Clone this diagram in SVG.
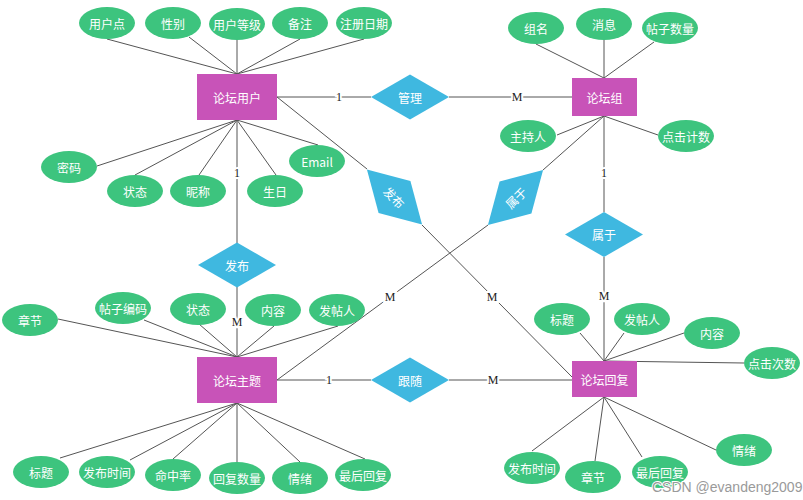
<svg xmlns="http://www.w3.org/2000/svg" width="803" height="500" viewBox="0 0 803 500">
<style>
.ln{stroke:#555;stroke-width:1;fill:none}
.ent{fill:#c853b8}
.rel{fill:#3fb8e0}
.att{fill:#3dc47e}
.t{font-family:"Noto Sans CJK SC","Liberation Sans",sans-serif;font-size:12px;fill:#fff;text-anchor:middle;dominant-baseline:central}
.card{font-family:"Liberation Serif",serif;font-size:12px;fill:#222;text-anchor:middle;dominant-baseline:central;stroke:#fff;stroke-width:4;paint-order:stroke}
.wm{font-family:"Liberation Sans",sans-serif;font-size:14px;fill:#9a9a9a;stroke:#fff;stroke-width:2;paint-order:stroke}
</style>
<defs>
<ellipse id="oval" cx="0" cy="0" rx="28" ry="16"/>
<polygon id="dia" points="-39,0 0,-22.5 39,0 0,22.5"/>
</defs>
<rect width="803" height="500" fill="#fff"/>
<g id="connectors">
<line class="ln" x1="107" y1="39" x2="237" y2="74"/>
<line class="ln" x1="189" y1="37" x2="237" y2="74"/>
<line class="ln" x1="237" y1="40" x2="237" y2="74"/>
<line class="ln" x1="300" y1="39" x2="237" y2="74"/>
<line class="ln" x1="364" y1="39" x2="237" y2="74"/>
<line class="ln" x1="97" y1="166" x2="237" y2="120"/>
<line class="ln" x1="135" y1="175" x2="237" y2="120"/>
<line class="ln" x1="199" y1="175" x2="237" y2="120"/>
<line class="ln" x1="276" y1="175" x2="237" y2="120"/>
<line class="ln" x1="318" y1="145" x2="237" y2="120"/>
<line class="ln" x1="237" y1="120" x2="237" y2="243"/>
<line class="ln" x1="277" y1="97" x2="371" y2="97"/>
<line class="ln" x1="449" y1="97" x2="572" y2="97"/>
<line class="ln" x1="277" y1="97" x2="367" y2="169"/>
<line class="ln" x1="422" y1="225" x2="572" y2="377"/>
<line class="ln" x1="536" y1="44" x2="604" y2="78"/>
<line class="ln" x1="604" y1="40" x2="604" y2="78"/>
<line class="ln" x1="654" y1="42" x2="604" y2="78"/>
<line class="ln" x1="557" y1="135" x2="604" y2="116"/>
<line class="ln" x1="658" y1="135" x2="604" y2="116"/>
<line class="ln" x1="604" y1="116" x2="604" y2="212"/>
<line class="ln" x1="604" y1="116" x2="543" y2="170"/>
<line class="ln" x1="488" y1="225" x2="277" y2="380"/>
<line class="ln" x1="604" y1="257" x2="604" y2="361"/>
<line class="ln" x1="237" y1="287" x2="237" y2="357"/>
<line class="ln" x1="58" y1="319" x2="237" y2="357"/>
<line class="ln" x1="144" y1="320" x2="237" y2="357"/>
<line class="ln" x1="199" y1="324" x2="237" y2="357"/>
<line class="ln" x1="274" y1="326" x2="237" y2="357"/>
<line class="ln" x1="338" y1="326" x2="237" y2="357"/>
<line class="ln" x1="60" y1="458" x2="237" y2="403"/>
<line class="ln" x1="130" y1="460" x2="237" y2="403"/>
<line class="ln" x1="173" y1="459" x2="237" y2="403"/>
<line class="ln" x1="237" y1="462" x2="237" y2="403"/>
<line class="ln" x1="300" y1="462" x2="237" y2="403"/>
<line class="ln" x1="365" y1="459" x2="237" y2="403"/>
<line class="ln" x1="277" y1="380" x2="371" y2="380"/>
<line class="ln" x1="449" y1="380" x2="572" y2="380"/>
<line class="ln" x1="580" y1="333" x2="604" y2="361"/>
<line class="ln" x1="624" y1="333" x2="604" y2="361"/>
<line class="ln" x1="684" y1="333" x2="604" y2="361"/>
<line class="ln" x1="744" y1="363" x2="604" y2="361"/>
<line class="ln" x1="532" y1="451" x2="604" y2="397"/>
<line class="ln" x1="595" y1="461" x2="604" y2="397"/>
<line class="ln" x1="642" y1="457" x2="604" y2="397"/>
<line class="ln" x1="716" y1="450" x2="604" y2="397"/>
<text class="card" x="339" y="97">1</text>
<text class="card" x="517" y="97">M</text>
<text class="card" x="237" y="173">1</text>
<text class="card" x="237" y="322">M</text>
<text class="card" x="604" y="173">1</text>
<text class="card" x="604" y="296">M</text>
<text class="card" x="329" y="380">1</text>
<text class="card" x="493" y="380">M</text>
<text class="card" x="390" y="297">M</text>
<text class="card" x="492" y="297">M</text>
</g>
<g id="e-user"><rect class="ent" x="197" y="74" width="80" height="46"/><text class="t" x="237" y="97">论坛用户</text></g>
<g id="e-group"><rect class="ent" x="572" y="78" width="65" height="38"/><text class="t" x="604.5" y="97">论坛组</text></g>
<g id="e-topic"><rect class="ent" x="197" y="357" width="80" height="46"/><text class="t" x="237" y="380">论坛主题</text></g>
<g id="e-reply"><rect class="ent" x="572" y="361" width="65" height="36"/><text class="t" x="604.5" y="379">论坛回复</text></g>
<g id="r-manage"><use href="#dia" class="rel" x="410" y="97"/><text class="t" x="410" y="97">管理</text></g>
<g id="r-publish1"><use href="#dia" class="rel" x="237" y="265"/><text class="t" x="237" y="265">发布</text></g>
<g id="r-belong1"><use href="#dia" class="rel" x="604" y="234.5"/><text class="t" x="604" y="234.5">属于</text></g>
<g id="r-follow"><use href="#dia" class="rel" x="410" y="380"/><text class="t" x="410" y="380">跟随</text></g>
<g id="r-publish2" transform="translate(394.5,197) rotate(45)"><use href="#dia" class="rel"/><text class="t" x="0" y="0">发布</text></g>
<g id="r-belong2" transform="translate(515.5,197.5) rotate(-45)"><use href="#dia" class="rel"/><text class="t" x="0" y="0">属于</text></g>
<g id="a-u1"><use href="#oval" class="att" x="107" y="23"/><text class="t" x="107" y="23">用户点</text></g>
<g id="a-u2"><use href="#oval" class="att" x="173" y="23"/><text class="t" x="173" y="23">性别</text></g>
<g id="a-u3"><use href="#oval" class="att" x="237" y="24"/><text class="t" x="237" y="24">用户等级</text></g>
<g id="a-u4"><use href="#oval" class="att" x="300" y="23"/><text class="t" x="300" y="23">备注</text></g>
<g id="a-u5"><use href="#oval" class="att" x="364" y="23"/><text class="t" x="364" y="23">注册日期</text></g>
<g id="a-u6"><use href="#oval" class="att" x="69" y="167"/><text class="t" x="69" y="167">密码</text></g>
<g id="a-u7"><use href="#oval" class="att" x="135" y="191"/><text class="t" x="135" y="191">状态</text></g>
<g id="a-u8"><use href="#oval" class="att" x="198" y="191"/><text class="t" x="198" y="191">昵称</text></g>
<g id="a-u9"><use href="#oval" class="att" x="275" y="191"/><text class="t" x="275" y="191">生日</text></g>
<g id="a-u10"><use href="#oval" class="att" x="317" y="161"/><text class="t" x="317" y="161">Email</text></g>
<g id="a-g1"><use href="#oval" class="att" x="536" y="28"/><text class="t" x="536" y="28">组名</text></g>
<g id="a-g2"><use href="#oval" class="att" x="604" y="24"/><text class="t" x="604" y="24">消息</text></g>
<g id="a-g3"><use href="#oval" class="att" x="670" y="28"/><text class="t" x="670" y="28">帖子数量</text></g>
<g id="a-g4"><use href="#oval" class="att" x="528" y="136"/><text class="t" x="528" y="136">主持人</text></g>
<g id="a-g5"><use href="#oval" class="att" x="686" y="136"/><text class="t" x="686" y="136">点击计数</text></g>
<g id="a-t1"><use href="#oval" class="att" x="30" y="320"/><text class="t" x="30" y="320">章节</text></g>
<g id="a-t2"><use href="#oval" class="att" x="123" y="308"/><text class="t" x="123" y="308">帖子编码</text></g>
<g id="a-t3"><use href="#oval" class="att" x="198" y="309"/><text class="t" x="198" y="309">状态</text></g>
<g id="a-t4"><use href="#oval" class="att" x="273" y="310"/><text class="t" x="273" y="310">内容</text></g>
<g id="a-t5"><use href="#oval" class="att" x="337" y="310"/><text class="t" x="337" y="310">发帖人</text></g>
<g id="a-t6"><use href="#oval" class="att" x="41" y="472"/><text class="t" x="41" y="472">标题</text></g>
<g id="a-t7"><use href="#oval" class="att" x="107" y="472"/><text class="t" x="107" y="472">发布时间</text></g>
<g id="a-t8"><use href="#oval" class="att" x="173" y="475"/><text class="t" x="173" y="475">命中率</text></g>
<g id="a-t9"><use href="#oval" class="att" x="237" y="478"/><text class="t" x="237" y="478">回复数量</text></g>
<g id="a-t10"><use href="#oval" class="att" x="300" y="478"/><text class="t" x="300" y="478">情绪</text></g>
<g id="a-t11"><use href="#oval" class="att" x="363" y="475"/><text class="t" x="363" y="475">最后回复</text></g>
<g id="a-r1"><use href="#oval" class="att" x="562" y="319"/><text class="t" x="562" y="319">标题</text></g>
<g id="a-r2"><use href="#oval" class="att" x="642" y="319"/><text class="t" x="642" y="319">发帖人</text></g>
<g id="a-r3"><use href="#oval" class="att" x="712" y="333"/><text class="t" x="712" y="333">内容</text></g>
<g id="a-r4"><use href="#oval" class="att" x="772" y="363"/><text class="t" x="772" y="363">点击次数</text></g>
<g id="a-r5"><use href="#oval" class="att" x="532" y="468"/><text class="t" x="532" y="468">发布时间</text></g>
<g id="a-r6"><use href="#oval" class="att" x="593" y="477"/><text class="t" x="593" y="477">章节</text></g>
<g id="a-r7"><use href="#oval" class="att" x="660" y="472"/><text class="t" x="660" y="472">最后回复</text></g>
<g id="a-r8"><use href="#oval" class="att" x="744" y="450"/><text class="t" x="744" y="450">情绪</text></g>
<text class="wm" x="652" y="492">CSDN @evandeng2009</text>
</svg>
